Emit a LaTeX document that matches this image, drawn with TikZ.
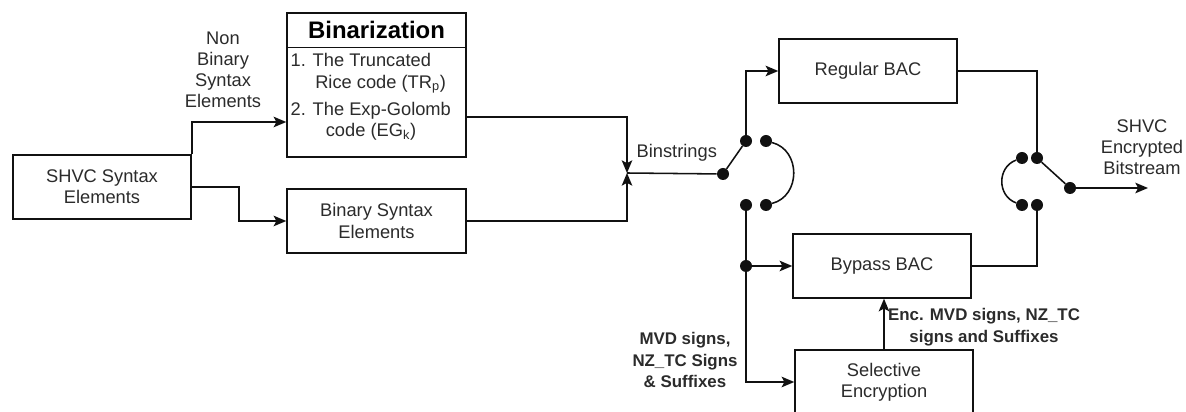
\documentclass[tikz,border=0pt]{standalone}
\usepackage{fontspec}
\setmainfont{Liberation Sans}
\usepackage{tikz}
\usetikzlibrary{arrows.meta, calc}
\definecolor{shvcInk}{HTML}{111111}
\definecolor{shvcText}{HTML}{2B2B2B}
\tikzset{
  shvc/box/.style   = {rectangle, draw=shvcInk, line width=1pt, fill=white, align=center,
                       minimum width=4.45cm, minimum height=1.6cm, inner sep=2pt,
                       font=\fontsize{13}{15}\selectfont, text=shvcText},
  shvc/head/.style  = {font=\fontsize{17}{19}\selectfont\bfseries, text=black, inner sep=1pt},
  shvc/list/.style  = {align=left, font=\fontsize{13}{15.5}\selectfont, text=shvcText, inner sep=1pt},
  shvc/label/.style = {align=center, font=\fontsize{13}{15}\selectfont, text=shvcText, inner sep=1pt},
  shvc/note/.style  = {align=center, font=\fontsize{12}{15.5}\selectfont\bfseries, text=shvcText, inner sep=1pt},
  shvc/dot/.style   = {circle, fill=shvcInk, inner sep=0pt, minimum size=0.3cm},
  shvc/line/.style  = {line width=1.1pt, draw=shvcInk},
  shvc/arrow/.style = {-{Stealth[length=9pt, width=7.5pt, inset=2pt]}, line width=1.1pt, draw=shvcInk},
}
\begin{document}
\begin{tikzpicture}[x=0.025cm, y=-0.025cm]
  \useasboundingbox (0,0) rectangle (1186,412);
  % boxes
  \node[shvc/box] (shvc) at (102,187) {SHVC Syntax\\Elements};
  \node[shvc/box, minimum width=4.475cm, minimum height=3.6cm] (binar) at (376.5,85) {};
  \node[shvc/head] (binarhead) at (376.5,30) {Binarization};
  \node[shvc/list, anchor=west] (binarlist) at (289,97)
       {1. The Truncated\\[-0.5pt]
        \hspace*{17.5pt}Rice code (TR\textsubscript{p})\\[4pt]
        2. The Exp-Golomb\\[-0.5pt]
        \hspace*{25pt}code (EG\textsubscript{k})};
  \node[shvc/box, minimum width=4.475cm] (binsyn) at (376.5,221) {Binary Syntax\\Elements};
  \node[shvc/box] (regular) at (868,71) {Regular BAC};
  \node[shvc/box] (bypass) at (882,266) {Bypass BAC};
  \node[shvc/box] (selenc) at (884,382) {Selective\\Encryption};
  % switches
  \node[shvc/dot] (sw1in) at (723,174) {};
  \node[shvc/dot] (sw1a) at (746,141) {};
  \node[shvc/dot] (sw1b) at (766,141) {};
  \node[shvc/dot] (sw1c) at (746,205) {};
  \node[shvc/dot] (sw1d) at (766,205) {};
  \node[shvc/dot] (bdot) at (746,266) {};
  \node[shvc/dot] (sw2a) at (1022,158) {};
  \node[shvc/dot] (sw2b) at (1037,158) {};
  \node[shvc/dot] (sw2c) at (1022,205) {};
  \node[shvc/dot] (sw2d) at (1037,205) {};
  \node[shvc/dot] (sw2out) at (1070,188) {};
  \coordinate (junc) at (627,173);
  \coordinate (outend) at (1148,188);
  % labels
  \node[shvc/label] (nonbin) at (223,70) {Non\\Binary\\Syntax\\Elements};
  \node[shvc/label, anchor=west] (binstr) at (635,153) {Binstrings};
  \node[shvc/label] (outlbl) at (1142,147) {SHVC\\Encrypted\\Bitstream};
  \node[shvc/note] (mvd) at (685,360) {MVD signs,\\NZ\_TC Signs\\\& Suffixes};
  \node[shvc/note] (enc) at (984,327) {Enc. MVD signs, NZ\_TC\\signs and Suffixes};
  % arrows
  \draw[shvc/line] ($(binar.north west)+(0,35)$) -- ($(binar.north east)+(0,35)$);
  \draw[shvc/arrow] (shvc.north east) |- ($(binar.west)+(0,37)$);
  \draw[shvc/arrow] (shvc.east) -- ++(47,0) |- (binsyn.west);
  \draw[shvc/arrow] ($(binar.east)+(0,32)$) -| (junc);
  \draw[shvc/arrow] (binsyn.east) -| (junc);
  \draw[shvc/line] (junc) -- (sw1in);
  \draw[shvc/line] (sw1in) -- (sw1a);
  \draw[shvc/line] (sw1b) .. controls (801,150) and (801,196) .. (sw1d);
  \draw[shvc/arrow] (sw1a) |- (regular.west);
  \draw[shvc/line] (sw1c) -- (bdot);
  \draw[shvc/arrow] (bdot) -- (bypass.west);
  \draw[shvc/arrow] (bdot) |- (selenc.west);
  \draw[shvc/arrow] (selenc.north) -- (selenc.north |- bypass.south);
  \draw[shvc/line] (regular.east) -| (sw2b);
  \draw[shvc/line] (bypass.east) -| (sw2d);
  \draw[shvc/line] (sw2b) -- (sw2out);
  \draw[shvc/line] (sw2a) .. controls (997,167) and (997,196) .. (sw2c);
  \draw[shvc/arrow] (sw2out) -- (outend);
\end{tikzpicture}
\end{document}
